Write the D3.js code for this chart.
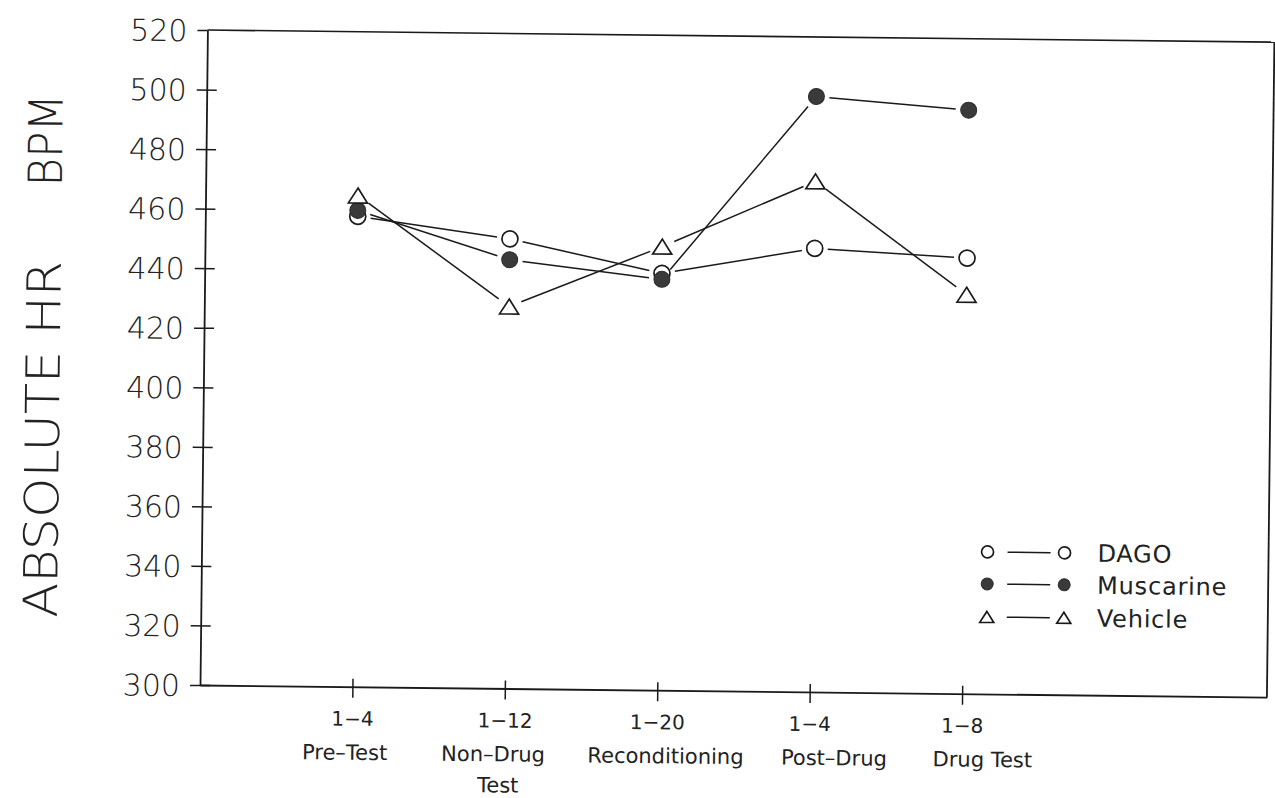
<!DOCTYPE html>
<html>
<head>
<meta charset="utf-8">
<script src="https://cdn.jsdelivr.net/npm/d3@7"></script>
<style>
  html, body { margin: 0; padding: 0; background: #fff; }
  svg { display: block; }
  text { font-family: "DejaVu Sans", "Noto Sans", sans-serif; fill: #222; }
</style>
</head>
<body>
<svg id="chart" width="1275" height="798"></svg>
<script>
// Session blocks along the x axis
const trialRanges = ["1\u22124", "1\u221212", "1\u221220", "1\u22124", "1\u22128"];
const sessionLabels = [["Pre\u2013Test"], ["Non\u2013Drug", "Test"], ["Reconditioning"], ["Post\u2013Drug"], ["Drug Test"]];

// Mean absolute heart rate (beats per minute) per group
const dago      = [458, 451, 440, 449, 446.3];
const muscarine = [460, 444, 438, 500, 496];
const vehicle   = [465, 428.3, 449, 471.5, 434];

const yTicks = [300, 320, 340, 360, 380, 400, 420, 440, 460, 480, 500, 520];
const groupNames = ["DAGO", "Muscarine", "Vehicle"];

// layout: horizontal nudge of each session name relative to its tick
const sessionLabelShift = [-7, -11, 9, 25, 21];

const svg = d3.select("#chart");
// the printed sheet sits a little askew
const g = svg.append("g").attr("transform", "rotate(0.65,200,685)");

const x = d3.scaleLinear().domain([0, 7]).range([200, 1267]);
const y = d3.scaleLinear().domain([300, 520]).range([685, 30]);

const ink = "#1a1a1a";

// frame: top and right edges
g.append("line").attr("x1", x(0)).attr("x2", x(7)).attr("y1", y(520)).attr("y2", y(520))
  .attr("stroke", ink).attr("stroke-width", 1.6);
g.append("line").attr("x1", x(7)).attr("x2", x(7)).attr("y1", y(520)).attr("y2", y(300))
  .attr("stroke", ink).attr("stroke-width", 1.8);

// y axis
const yAxis = g.append("g").attr("transform", `translate(${x(0)},0)`)
  .call(d3.axisLeft(y).tickValues(yTicks).tickSizeOuter(0).tickPadding(20));
yAxis.select(".domain").attr("stroke", ink).attr("stroke-width", 1.8);
yAxis.selectAll(".tick line").attr("stroke", ink).attr("stroke-width", 1.5)
  .attr("x1", -10).attr("x2", d => d === 520 ? 0 : 10);
yAxis.selectAll(".tick text").style("font-size", "30px").style("font-weight", 200)
  .attr("fill", "#222").attr("dy", "0.36em").attr("x", -20);

// x axis
const xAxis = g.append("g").attr("transform", `translate(0,${y(300)})`)
  .call(d3.axisBottom(x).tickValues([1, 2, 3, 4, 5]).tickFormat(d => trialRanges[d - 1]).tickSizeOuter(0));
xAxis.select(".domain").attr("stroke", ink).attr("stroke-width", 1.8);
xAxis.selectAll(".tick line").attr("stroke", ink).attr("stroke-width", 1.5)
  .attr("y1", -8).attr("y2", 11);
xAxis.selectAll(".tick text").style("font-size", "20px").attr("fill", "#222")
  .attr("y", 39).attr("dy", 0);

// session names under the trial ranges
sessionLabels.forEach((lines, i) => {
  const cx = x(i + 1) + sessionLabelShift[i];
  const t = g.append("text").attr("x", cx).attr("y", 758)
    .attr("text-anchor", "middle").style("font-size", "21px");
  lines.forEach((ln, k) => {
    t.append("tspan").attr("x", k === 0 ? cx : cx + 5).attr("dy", k === 0 ? 0 : 31).text(ln);
  });
});

// y axis title, two words-groups spread along the axis
const titleFont = { size: "47px", weight: 200 };
g.append("text").attr("transform", "translate(56,441) rotate(-90)")
  .attr("text-anchor", "middle").style("font-size", titleFont.size).style("font-weight", titleFont.weight)
  .attr("fill", "#2a2a2a").attr("textLength", 357).attr("lengthAdjust", "spacingAndGlyphs")
  .text("ABSOLUTE HR");
g.append("text").attr("transform", "translate(56,142) rotate(-90)")
  .attr("text-anchor", "middle").style("font-size", titleFont.size).style("font-weight", titleFont.weight)
  .attr("fill", "#2a2a2a").attr("textLength", 92).attr("lengthAdjust", "spacingAndGlyphs")
  .text("BPM");

// markers
const triPath = (w, h) => `M0,${-h / 2}L${w / 2},${h / 2}L${-w / 2},${h / 2}Z`;
function drawMarker(sel, kind, cx, cy, big) {
  const r = big ? 8 : 6;
  if (kind === "open") {
    sel.append("circle").attr("cx", cx).attr("cy", cy).attr("r", r)
      .attr("fill", "#fff").attr("stroke", ink).attr("stroke-width", 1.7);
  } else if (kind === "filled") {
    sel.append("circle").attr("cx", cx).attr("cy", cy).attr("r", r)
      .attr("fill", "#3a3a3a").attr("stroke", "#2a2a2a").attr("stroke-width", 1);
  } else {
    sel.append("path").attr("d", big ? triPath(19, 15) : triPath(14, 11))
      .attr("transform", `translate(${cx},${cy})`)
      .attr("fill", "#fff").attr("stroke", ink).attr("stroke-width", 1.7);
  }
}

const series = [
  { name: groupNames[0], values: dago, kind: "open" },
  { name: groupNames[1], values: muscarine, kind: "filled" },
  { name: groupNames[2], values: vehicle, kind: "tri" }
];

// connecting segments stop short of each marker
const gap = 13;
series.forEach(s => {
  const pts = s.values.map((v, i) => [x(i + 1), y(v)]);
  for (let i = 0; i < pts.length - 1; i++) {
    const [x1, y1] = pts[i], [x2, y2] = pts[i + 1];
    const len = Math.hypot(x2 - x1, y2 - y1);
    const ux = (x2 - x1) / len, uy = (y2 - y1) / len;
    g.append("line")
      .attr("x1", x1 + ux * gap).attr("y1", y1 + uy * gap)
      .attr("x2", x2 - ux * gap).attr("y2", y2 - uy * gap)
      .attr("stroke", ink).attr("stroke-width", 1.5);
  }
});
series.forEach(s => {
  const mg = g.append("g");
  s.values.forEach((v, i) => drawMarker(mg, s.kind, x(i + 1), y(v), true));
});

// legend
const legend = g.append("g");
const rowY = [543, 575, 608];
series.forEach((s, i) => {
  const ly = rowY[i];
  drawMarker(legend, s.kind, 986, ly, false);
  legend.append("line").attr("x1", 1006).attr("x2", 1049).attr("y1", ly).attr("y2", ly)
    .attr("stroke", ink).attr("stroke-width", 1.5);
  drawMarker(legend, s.kind, 1063, ly, false);
  legend.append("text").attr("x", 1096).attr("y", ly).attr("dy", "0.36em")
    .style("font-size", "24px").style("letter-spacing", "0.8px").text(s.name);
});
</script>
</body>
</html>
